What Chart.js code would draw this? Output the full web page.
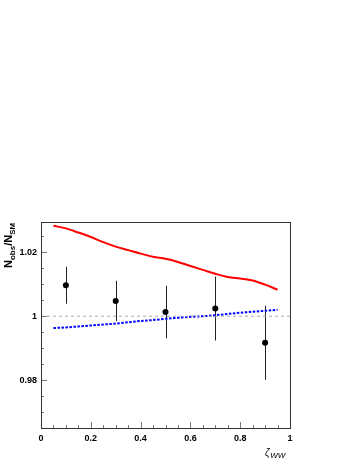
<!DOCTYPE html>
<html><head><meta charset="utf-8">
<script src="https://cdn.jsdelivr.net/npm/chart.js@4/dist/chart.umd.min.js"></script>
<style>html,body{margin:0;padding:0;background:#fff}canvas{display:block}</style>
</head><body>
<canvas id="c" width="358" height="463"></canvas>
<script>
// ---- data ----
const pointX = [0.1, 0.3, 0.5, 0.7, 0.9];
const pointY = [1.0097, 1.0048, 1.0013, 1.0024, 0.9917];
const pointErr = [0.0058, 0.0063, 0.0082, 0.0100, 0.0116];

const curveX = [0.05,0.10,0.15,0.20,0.25,0.30,0.35,0.40,0.45,0.50,0.55,0.60,0.65,0.70,0.75,0.80,0.85,0.90,0.95];
const redY  = [1.0283,1.0275,1.0262,1.0248,1.0232,1.0218,1.0207,1.0196,1.0186,1.0180,1.0170,1.0157,1.0145,1.0133,1.0123,1.0118,1.0112,1.0099,1.0083];
const blueY = [0.9963,0.9965,0.9968,0.9971,0.9974,0.9977,0.9981,0.9985,0.9988,0.9992,0.9995,0.9998,1.0000,1.0003,1.0007,1.0011,1.0014,1.0017,1.0020];

const refLineX = [0, 1];
const refLineY = [1, 1];

const xMajorTicks = [0, 0.2, 0.4, 0.6, 0.8, 1];
const xMinorTicks = [0.05,0.1,0.15,0.25,0.3,0.35,0.45,0.5,0.55,0.65,0.7,0.75,0.85,0.9,0.95];
const yMajorTicks = [0.98, 1, 1.02];
const yMinorTicks = [0.97,0.975,0.985,0.99,0.995,1.005,1.01,1.015,1.025];

const xMin = 0, xMax = 1, yMin = 0.965, yMax = 1.0295;

// ---- helpers ----
const zip = (xs, ys) => xs.map((x, i) => ({x, y: ys[i]}));
const FONT = "'Liberation Sans', Arial, sans-serif";

const decor = {
  id: 'decor',
  beforeDatasetsDraw(chart) {
    const {ctx, chartArea: a, scales: {x, y}} = chart;
    ctx.save();
    // error bars
    ctx.strokeStyle = '#222';
    ctx.lineWidth = 1;
    pointX.forEach((px, i) => {
      const xp = Math.round(x.getPixelForValue(px)) + 0.5;
      ctx.beginPath();
      ctx.moveTo(xp, y.getPixelForValue(pointY[i] + pointErr[i]));
      ctx.lineTo(xp, y.getPixelForValue(pointY[i] - pointErr[i]));
      ctx.stroke();
    });
    ctx.restore();
  },
  afterDraw(chart) {
    const {ctx, chartArea: a, scales: {x, y}} = chart;
    ctx.save();
    // ticks (inside)
    ctx.strokeStyle = '#777';
    ctx.lineWidth = 1;
    const yt = (v, len) => {
      const yp = Math.round(y.getPixelForValue(v)) + 0.5;
      ctx.beginPath(); ctx.moveTo(a.left, yp); ctx.lineTo(a.left + len, yp); ctx.stroke();
    };
    const xt = (v, len) => {
      const xp = Math.round(x.getPixelForValue(v)) + 0.5;
      ctx.beginPath(); ctx.moveTo(xp, a.bottom); ctx.lineTo(xp, a.bottom - len); ctx.stroke();
    };
    yMajorTicks.forEach(v => yt(v, 6));
    yMinorTicks.forEach(v => yt(v, 3));
    xMajorTicks.forEach(v => xt(v, 6));
    xMinorTicks.forEach(v => xt(v, 3));
    // frame
    ctx.strokeStyle = '#333';
    ctx.strokeRect(Math.round(a.left) + 0.5, Math.round(a.top) + 0.5,
                   Math.round(a.right - a.left), Math.round(a.bottom - a.top));
    // y title (rotated)
    ctx.fillStyle = '#000';
    ctx.translate(12, 268);
    ctx.rotate(-Math.PI / 2);
    ctx.textBaseline = 'alphabetic';
    ctx.textAlign = 'left';
    let cx = 0;
    const part = (t, size, dy) => {
      ctx.font = 'bold ' + size + 'px ' + FONT;
      ctx.fillText(t, cx, dy);
      cx += ctx.measureText(t).width;
    };
    part('N', 11, 0); part('obs', 8, 3); part('/', 11, 0); part('N', 11, 0); part('SM', 8, 3);
    ctx.setTransform(1, 0, 0, 1, 0, 0);
    // x title
    ctx.font = 'italic 10px ' + FONT;
    ctx.fillText('ζ', 265, 456);
    const zw = ctx.measureText('ζ').width;
    ctx.font = 'italic 8px ' + FONT;
    ctx.fillText('WW', 265 + zw + 0.5, 458);
    ctx.restore();
  }
};

new Chart(document.getElementById('c'), {
  type: 'scatter',
  data: {
    datasets: [
      { data: zip(refLineX, refLineY), showLine: true, borderColor: '#aaa', borderWidth: 1,
        borderDash: [3, 3], pointRadius: 0 },
      { data: zip(curveX, redY), showLine: true, borderColor: '#ff0000', borderWidth: 2,
        pointRadius: 0, cubicInterpolationMode: 'monotone' },
      { data: zip(curveX, blueY), showLine: true, borderColor: '#0000ff', borderWidth: 2,
        borderDash: [2.5, 1.5], pointRadius: 0, cubicInterpolationMode: 'monotone' },
      { data: zip(pointX, pointY), showLine: false, pointRadius: 3, pointHoverRadius: 3,
        pointBackgroundColor: '#000', pointBorderColor: '#000', borderWidth: 0 }
    ]
  },
  options: {
    responsive: false,
    animation: false,
    devicePixelRatio: 1,
    events: [],
    layout: { padding: { top: 222, right: 68, left: 0, bottom: 0 } },
    plugins: { legend: { display: false }, tooltip: { enabled: false } },
    scales: {
      x: {
        type: 'linear', min: xMin, max: xMax,
        grid: { display: false, drawTicks: false },
        border: { display: false },
        afterBuildTicks: s => { s.ticks = xMajorTicks.map(v => ({value: v})); },
        afterFit: s => { s.height = 35; },
        ticks: { padding: 5, color: '#000', font: { family: FONT, size: 9, weight: 'bold' },
                 maxRotation: 0, autoSkip: false,
                 callback: v => String(+v.toFixed(3)) }
      },
      y: {
        type: 'linear', min: yMin, max: yMax,
        grid: { display: false, drawTicks: false },
        border: { display: false },
        afterBuildTicks: s => { s.ticks = yMajorTicks.map(v => ({value: v})); },
        afterFit: s => { s.width = 41; },
        ticks: { padding: 4, color: '#000', font: { family: FONT, size: 9, weight: 'bold' },
                 autoSkip: false,
                 callback: v => String(+v.toFixed(3)) }
      }
    }
  },
  plugins: [decor]
});
</script>
</body></html>
